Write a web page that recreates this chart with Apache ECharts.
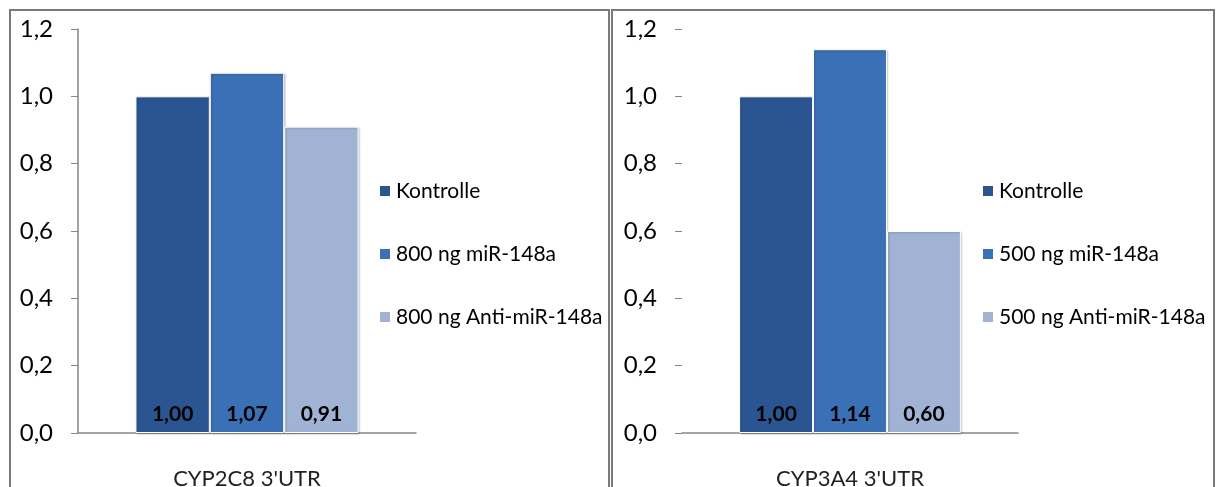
<!DOCTYPE html>
<html>
<head>
<meta charset="utf-8">
<script src="https://cdn.jsdelivr.net/npm/echarts@6/dist/echarts.min.js"></script>
<style>
  html, body { margin: 0; padding: 0; background: #fff; }
  #chart { width: 1218px; height: 487px; }
</style>
</head>
<body>
<div id="chart"></div>
<script>
// Relative luciferase activity of two 3'UTR reporter constructs
const categoriesLeft = ["CYP2C8 3'UTR"];
const categoriesRight = ["CYP3A4 3'UTR"];
const seriesNamesLeft = ['Kontrolle', '800 ng miR-148a', '800 ng Anti-miR-148a'];
const seriesNamesRight = ['Kontrolle', '500 ng miR-148a', '500 ng Anti-miR-148a'];
const valuesLeft = [1.00, 1.07, 0.91];
const valuesRight = [1.00, 1.14, 0.60];
const yTicks = [0, 0.2, 0.4, 0.6, 0.8, 1.0, 1.2];

const colors = ['#2B5590', '#3A70B5', '#A1B3D4'];
const fontFamily = 'Lato, "Open Sans", sans-serif';

const chart = echarts.init(document.getElementById('chart'), null, { renderer: 'canvas' });

function commaNum(v, d) { return v.toFixed(d).replace('.', ','); }

function makeBars(names, values, axisIndex) {
  return names.map((name, i) => ({
    name: name,
    type: 'bar',
    xAxisIndex: axisIndex,
    yAxisIndex: axisIndex,
    barGap: '0%',
    barCategoryGap: '34%',
    data: [values[i]],
    itemStyle: {
      color: colors[i],
      borderColor: '#ffffff',
      borderWidth: 1,
      shadowColor: 'rgba(0,0,0,0.22)',
      shadowBlur: 2,
      shadowOffsetX: 1,
      shadowOffsetY: 1
    },
    label: {
      show: true,
      position: 'insideBottom',
      distance: 8,
      formatter: p => commaNum(p.value, 2),
      color: '#000',
      fontWeight: 'bold',
      fontSize: 21,
      fontFamily: fontFamily
    },
    emphasis: { disabled: true }
  }));
}

function makeYAxis(gridIndex, showLine) {
  return {
    type: 'value',
    gridIndex: gridIndex,
    min: yTicks[0],
    max: yTicks[yTicks.length - 1],
    interval: 0.2,
    axisLine: { show: showLine, lineStyle: { color: '#868686', width: 1.5 } },
    axisTick: { show: true, length: 7, lineStyle: { color: '#868686', width: 1 } },
    splitLine: { show: false },
    axisLabel: {
      margin: 25,
      fontSize: 24,
      color: '#000',
      fontFamily: fontFamily,
      formatter: v => commaNum(v, 1)
    }
  };
}

function makeXAxis(gridIndex, cats) {
  return {
    type: 'category',
    gridIndex: gridIndex,
    data: cats,
    axisLine: { show: true, onZero: true, lineStyle: { color: '#868686', width: 1.5 } },
    axisTick: { show: false },
    axisLabel: {
      margin: 35,
      fontSize: 22,
      color: '#222',
      fontFamily: fontFamily
    }
  };
}

function makeLegend(names, left) {
  return {
    data: names,
    orient: 'vertical',
    left: left,
    top: 175,
    itemWidth: 12,
    itemHeight: 12,
    itemGap: 41,
    icon: 'rect',
    selectedMode: false,
    textStyle: {
      fontSize: 21,
      lineHeight: 22,
      color: '#000',
      fontFamily: fontFamily
    }
  };
}

const option = {
  animation: false,
  backgroundColor: '#ffffff',
  grid: [
    { left: 78, top: 29, width: 338, height: 404, outerBoundsMode: 'none' },
    { left: 682, top: 29, width: 336, height: 404, outerBoundsMode: 'none' }
  ],
  xAxis: [makeXAxis(0, categoriesLeft), makeXAxis(1, categoriesRight)],
  yAxis: [makeYAxis(0, true), makeYAxis(1, false)],
  legend: [makeLegend(seriesNamesLeft, 373), makeLegend(seriesNamesRight, 976)],
  series: [
    ...makeBars(seriesNamesLeft, valuesLeft, 0),
    ...makeBars(seriesNamesRight, valuesRight, 1)
  ],
  graphic: [
    {
      type: 'rect', silent: true, z: 100,
      shape: { x: 10, y: 10, width: 599, height: 500 },
      style: { fill: 'none', stroke: '#7a7a7a', lineWidth: 2 }
    },
    {
      type: 'rect', silent: true, z: 100,
      shape: { x: 612, y: 10, width: 602, height: 500 },
      style: { fill: 'none', stroke: '#7a7a7a', lineWidth: 2 }
    }
  ]
};

chart.setOption(option);
</script>
</body>
</html>
